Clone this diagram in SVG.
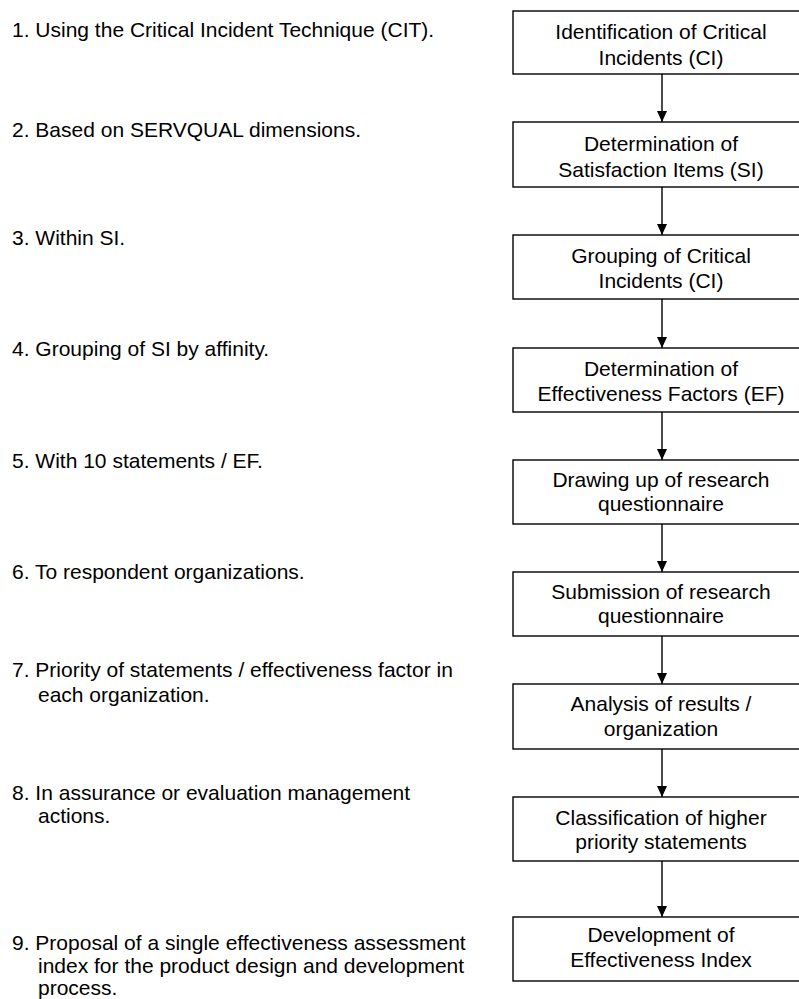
<svg xmlns="http://www.w3.org/2000/svg" width="799" height="999" viewBox="0 0 799 999">
<defs>
<marker id="ah" markerWidth="12" markerHeight="12" refX="11" refY="5" orient="auto" markerUnits="userSpaceOnUse">
<path d="M0,0 L11,5 L0,10 Z" fill="#000"/>
</marker>
<style>
text{font-family:"Liberation Sans",Arial,sans-serif;font-size:21px;fill:#000}
.c{text-anchor:middle}
rect{fill:#fff;stroke:#000;stroke-width:1.4}
.cn line{stroke:#000;stroke-width:1.4;marker-end:url(#ah)}
</style>
</defs>
<rect x="0" y="0" width="799" height="999" style="stroke:none"/>
<g id="notes">
<text x="12" y="37">1. Using the Critical Incident Technique (CIT).</text>
<text x="12" y="137">2.  Based on SERVQUAL dimensions.</text>
<text x="12" y="245">3. Within SI.</text>
<text x="12" y="356">4. Grouping of SI by affinity.</text>
<text x="12" y="468">5. With 10 statements / EF.</text>
<text x="12" y="579">6. To respondent organizations.</text>
<text x="12" y="677">7. Priority of statements / effectiveness factor in</text>
<text x="38" y="702">each organization.</text>
<text x="12" y="800">8. In assurance or evaluation management</text>
<text x="38" y="823">actions.</text>
<text x="12" y="950">9. Proposal of a single effectiveness assessment</text>
<text x="38" y="973">index for the product design and development</text>
<text x="38" y="995">process.</text>
</g>
<g class="cn" id="connectors">
<line x1="662" y1="74" x2="662" y2="122"/>
<line x1="662" y1="187" x2="662" y2="235"/>
<line x1="662" y1="299" x2="662" y2="348"/>
<line x1="662" y1="412" x2="662" y2="460"/>
<line x1="662" y1="524" x2="662" y2="572"/>
<line x1="662" y1="636" x2="662" y2="684"/>
<line x1="662" y1="749" x2="662" y2="797"/>
<line x1="662" y1="861" x2="662" y2="917"/>
</g>
<g id="n1"><rect x="513" y="11" width="297" height="63"/><text class="c" x="661" y="39">Identification of Critical</text><text class="c" x="661" y="65">Incidents (CI)</text></g>
<g id="n2"><rect x="513" y="122" width="297" height="65"/><text class="c" x="661" y="151">Determination of</text><text class="c" x="661" y="177">Satisfaction Items (SI)</text></g>
<g id="n3"><rect x="513" y="235" width="297" height="64"/><text class="c" x="661" y="263">Grouping of Critical</text><text class="c" x="661" y="288">Incidents (CI)</text></g>
<g id="n4"><rect x="513" y="348" width="297" height="64"/><text class="c" x="661" y="376">Determination of</text><text class="c" x="661" y="401">Effectiveness Factors (EF)</text></g>
<g id="n5"><rect x="513" y="460" width="297" height="64"/><text class="c" x="661" y="487">Drawing up of research</text><text class="c" x="661" y="511">questionnaire</text></g>
<g id="n6"><rect x="513" y="572" width="297" height="64"/><text class="c" x="661" y="599">Submission of research</text><text class="c" x="661" y="623">questionnaire</text></g>
<g id="n7"><rect x="513" y="684" width="297" height="65"/><text class="c" x="661" y="711">Analysis of results /</text><text class="c" x="661" y="736">organization</text></g>
<g id="n8"><rect x="513" y="797" width="297" height="64"/><text class="c" x="661" y="825">Classification of higher</text><text class="c" x="661" y="849">priority statements</text></g>
<g id="n9"><rect x="513" y="917" width="297" height="64"/><text class="c" x="661" y="942">Development of</text><text class="c" x="661" y="967">Effectiveness Index</text></g>
</svg>
